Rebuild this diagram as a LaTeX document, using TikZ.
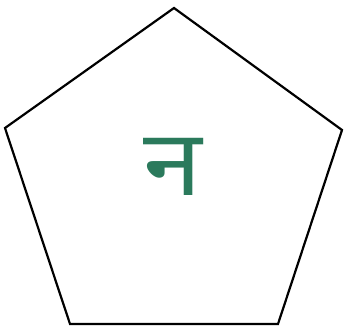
\documentclass[tikz,border=0pt]{standalone}
\usepackage{fontspec}
\newfontfamily\devfont[Script=Devanagari]{Noto Sans}
\definecolor{lettergreen}{HTML}{2B7A5C}
\tikzset{
  outline/.style={draw=black, line width=2.2pt, line join=miter},
  letter/.style={font=\devfont\fontsize{92}{92}\selectfont, text=lettergreen,
    inner sep=0pt, xscale=1.15}
}
\begin{document}
\begin{tikzpicture}[x=1pt, y=-1pt]
  \useasboundingbox (0,0) rectangle (345,331);

  % Pentagon corners
  \coordinate (top)   at (174, 8);
  \coordinate (right) at (342,130);
  \coordinate (br)    at (278,324);
  \coordinate (bl)    at (70,324);
  \coordinate (left)  at (5,128);

  \draw[outline] (top) -- (right) -- (br) -- (bl) -- (left) -- cycle;

  % Letter
  \node[letter] (na) at (173,167) {न};

\end{tikzpicture}
\end{document}
